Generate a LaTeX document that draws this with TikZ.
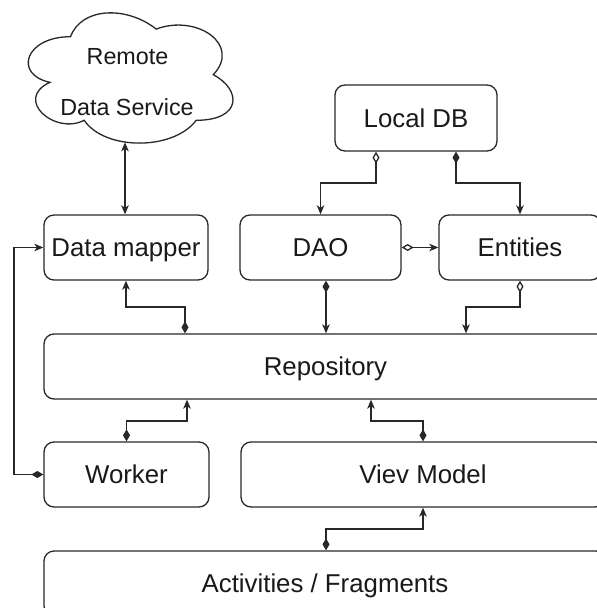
\documentclass[tikz,border=0pt]{standalone}
\usepackage{fontspec}
\setmainfont{Liberation Sans}
\usetikzlibrary{arrows.meta}

\definecolor{linec}{RGB}{40,40,40}
\definecolor{txtc}{RGB}{25,25,25}

\tikzset{
  box/.style={draw=linec, line width=1.3pt, rounded corners=10pt,
    font=\fontsize{25.8}{30}\selectfont, text=txtc,
    text height=18.5pt, text depth=0pt, inner sep=0pt},
  cloudtxt/.style={font=\fontsize{23.3}{28}\selectfont, text=txtc,
    text height=16.7pt, text depth=0pt, inner sep=0pt},
  conn/.style={draw=linec, line width=1.3pt},
  tipend/.tip={Stealth[length=9pt,width=7.5pt,inset=2.5pt]},
  comp/.style={conn, {Diamond[length=12pt,width=7pt]}-tipend},
  agg/.style={conn, {Diamond[open,length=12pt,width=7pt,fill=white]}-tipend},
  dbl/.style={conn, tipend-tipend}
}

\begin{document}
\begin{tikzpicture}[x=1pt, y=-1pt]
\useasboundingbox (0,0) rectangle (597,608);
\clip (0,0) rectangle (597,608);
\fill[white] (0,0) rectangle (597,608);

% remote service cloud
\draw[linec, line width=1.3pt]
  (70.5,36.7) .. controls (24.8,36.7) and (13.4,74.7) .. (50.0,82.3)
  .. controls (13.4,99.0) and (54.5,135.5) .. (84.2,120.3)
  .. controls (104.8,150.7) and (173.4,150.7) .. (196.2,120.3)
  .. controls (241.9,120.3) and (241.9,89.9) .. (213.3,74.7)
  .. controls (241.9,44.3) and (196.2,13.9) .. (156.2,29.1)
  .. controls (127.65,6.3) and (82.0,6.3) .. (70.5,36.7) -- cycle;
\node[cloudtxt] (remote) at (127.5,56) {Remote};
\node[cloudtxt] (dataservice) at (127,107.5) {Data Service};
\coordinate (cloudb) at (125,142.3);

% boxes
\node[box, minimum width=162pt, minimum height=66pt] (ldb) at (416,118) {Local DB};
\node[box, minimum width=164pt, minimum height=65pt] (dm) at (126,247.5) {Data mapper};
\node[box, minimum width=161pt, minimum height=65pt] (dao) at (320.5,247.5) {DAO};
\node[box, minimum width=162pt, minimum height=65pt] (ent) at (520,247.5) {Entities};
\node[box, minimum width=563pt, minimum height=65pt] (repo) at (325.5,366.5) {Repository};
\node[box, minimum width=165pt, minimum height=65pt] (worker) at (126.5,474.5) {Worker};
\node[box, minimum width=364pt, minimum height=65pt] (vm) at (423,474.5) {Viev Model};
\node[box, minimum width=562pt, minimum height=65pt] (act) at (325,583.5) {Activities / Fragments};

% connectors
\draw[dbl] (cloudb) -- (cloudb |- dm.north);
\draw[agg] (ldb.south -| 376,0) -- (376,183) -| (dao.north);
\draw[comp] (ldb.south -| 456,0) -- (456,183) -| (ent.north);
\draw[agg] (dao.east) -- (ent.west);
\draw[comp] (dao.south -| 326,0) -- (repo.north -| 326,0);
\draw[agg] (ent.south) -- (520,307) -| (repo.north -| 466,0);
\draw[comp] (repo.north -| 185,0) -- (185,307) -| (dm.south);
\draw[comp] (worker.north) -- (126.5,421) -| (repo.south -| 187,0);
\draw[comp] (vm.north) -- (423,421) -| (repo.south -| 371,0);
\draw[comp] (act.north -| 326,0) -- (326,529) -| (vm.south);
\draw[comp] (worker.west) -- (14,474.5) |- (dm.west);
\end{tikzpicture}
\end{document}
